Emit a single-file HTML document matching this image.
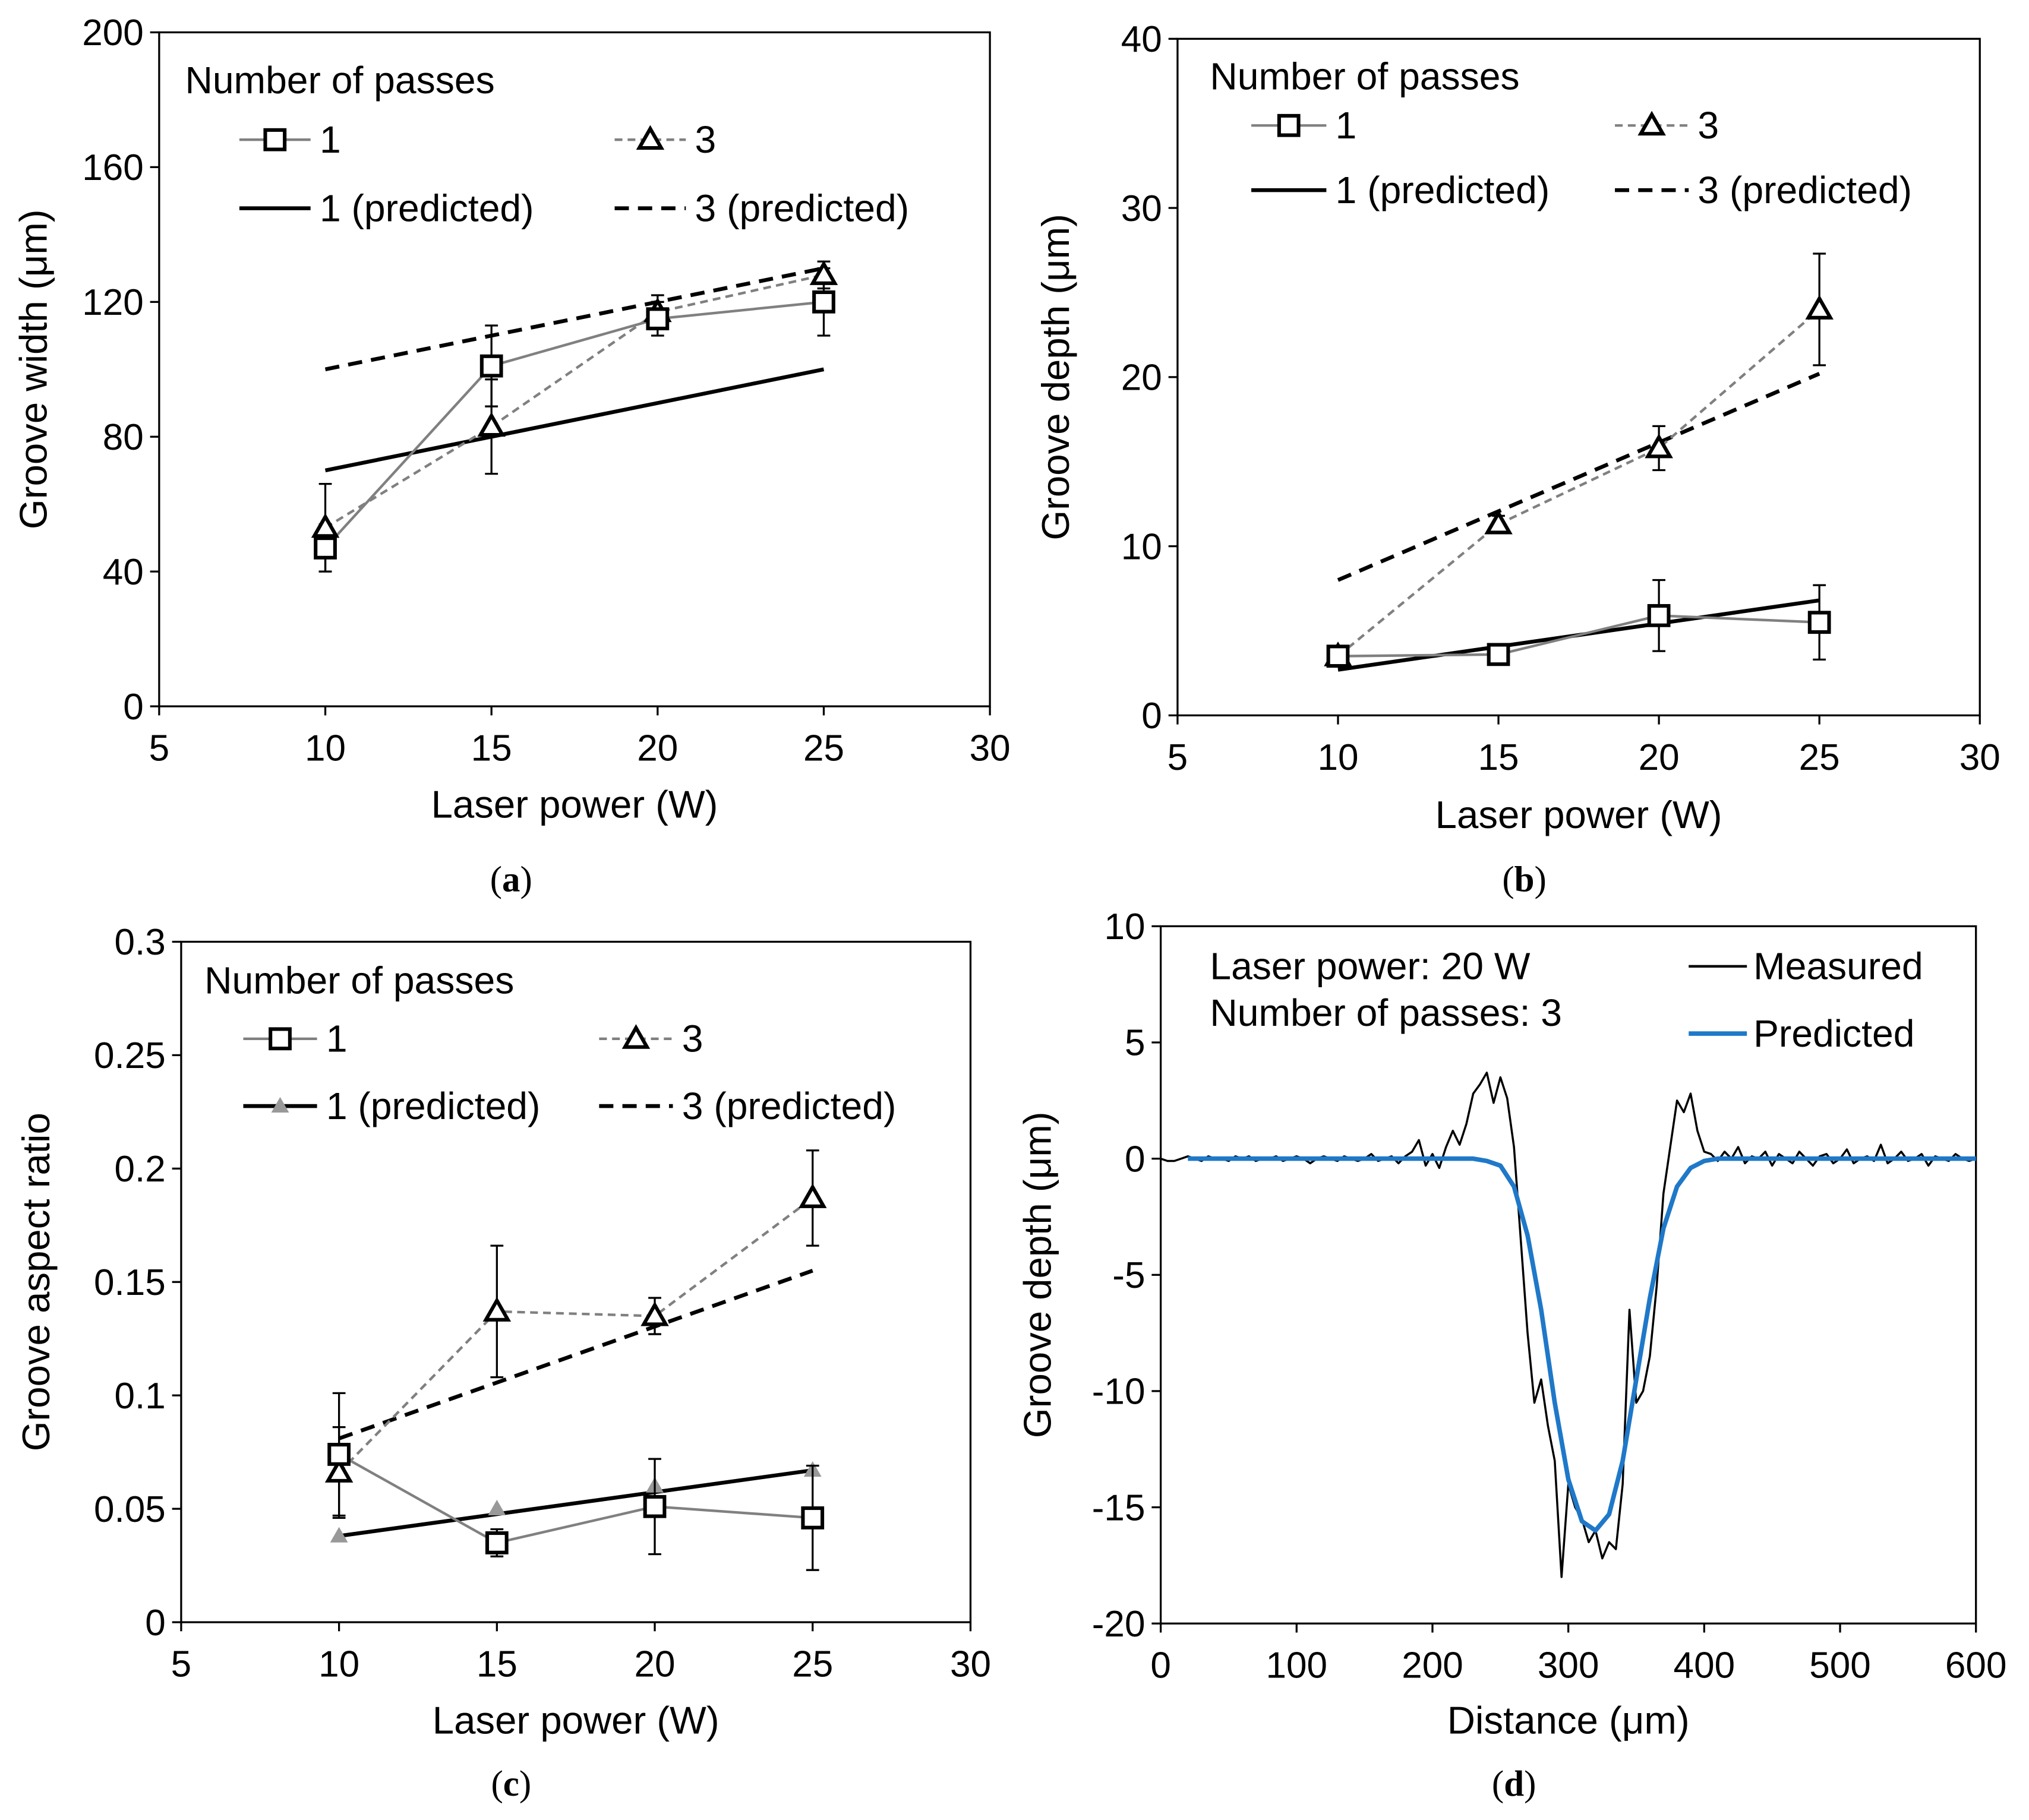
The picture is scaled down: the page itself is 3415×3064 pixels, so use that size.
<!DOCTYPE html>
<html><head><meta charset="utf-8"><style>
html,body{margin:0;padding:0;background:#fff}
svg text{font-family:"Liberation Sans",sans-serif;fill:#000}
</style></head><body>
<svg id="s" width="3415" height="3059" viewBox="0 0 1568 1404.6" preserveAspectRatio="none" xmlns="http://www.w3.org/2000/svg"></svg>
<script>
// ---- data ----
const power=[10,15,20,25];
const widthP1=[47,101,115,120], widthP1Err=[7,12,5,10];
const widthP3=[53,83,117,128], widthP3Err=[13,14,5,4];
const widthPred1=[70,100], widthPred3=[100,130], predX=[10,25];
const depthP1=[3.5,3.6,5.9,5.5], depthP1Err=[0.3,0.3,2.1,2.2];
const depthP3=[3.5,11.3,15.8,24], depthP3Err=[0.3,0.5,1.3,3.3];
const depthPred1=[2.7,6.8], depthPred3=[8,20.2];
const arP1=[0.074,0.035,0.051,0.046], arP1Err=[0.027,0.006,0.021,0.023];
const arP3=[0.066,0.137,0.135,0.187], arP3Err=[0.02,0.029,0.008,0.021];
const arPred1=[0.038,0.05,0.06,0.067], arPred3=[0.081,0.155];
const measStart=0, measStep=5;
const measured=[0,-0.1,-0.1,0,0.1,0,-0.1,0.1,0,0,-0.1,0.1,0,0.1,-0.1,0,0,0.1,-0.1,0,0.1,0,-0.2,0,0.1,0,-0.1,0.1,0,-0.1,0,0.2,-0.1,0,0.1,-0.2,0.1,0.3,
0.8,-0.3,0.2,-0.4,0.5,1.2,0.6,1.5,2.8,3.2,3.7,2.4,3.5,2.6,0.5,-3.5,-7.5,-10.5,-9.5,-11.5,-13,-18,-14,-15,-15.5,-16.5,-16,-17.2,-16.5,-16.8,-14,-6.5,-10.5,-10,-8.5,-5.5,-1.5,0.5,2.5,2.0,2.8,1.2,0.3,
0.2,-0.1,0.3,0,0.5,-0.2,0.1,0,0.3,-0.3,0.2,0,-0.2,0.3,0,-0.3,0.1,0.2,-0.2,0,0.4,-0.2,0,0.1,-0.1,0.6,-0.2,0,0.3,-0.1,0,0.2,-0.3,0.1,0,-0.1,0.2,0,-0.1,0];
const predDist=[20,100,200,230,240,250,260,270,280,290,300,310,320,330,340,350,360,370,380,390,400,410,500,600];
const predDepth=[0,0,0,0,-0.1,-0.3,-1.2,-3.3,-6.5,-10.5,-13.8,-15.6,-16,-15.3,-13,-9.5,-6,-3,-1.2,-0.4,-0.1,0,0,0];
const xTicksP=[5,10,15,20,25,30];
const yTicksA=[0,40,80,120,160,200], yTicksB=[0,10,20,30,40];
const yTicksC=[0,0.05,0.1,0.15,0.2,0.25,0.3], yTicksCLab=["0","0.05","0.1","0.15","0.2","0.25","0.3"];
const xTicksD=[0,100,200,300,400,500,600], yTicksD=[-20,-15,-10,-5,0,5,10];

const S=document.getElementById('s');
const NS='http://www.w3.org/2000/svg';
function el(tag,at,parent,txt){const e=document.createElementNS(NS,tag);for(const k in at)e.setAttribute(k,at[k]);if(txt!==undefined)e.textContent=txt;(parent||S).appendChild(e);return e;}

function axes(p){
  const g=el('g',{});
  
  
  p.sx=v=>p.x0+(v-p.xmin)/(p.xmax-p.xmin)*(p.x1-p.x0);
  p.sy=v=>p.y0+(v-p.ymin)/(p.ymax-p.ymin)*(p.y1-p.y0);
  const f=el('rect',{x:p.x0,y:p.y1,width:p.x1-p.x0,height:p.y0-p.y1,fill:'none',stroke:'#000','stroke-width':1.5},g);
  
  p.xt.forEach((v,i)=>{const x=p.sx(v);
    el('line',{x1:x,x2:x,y1:p.y0,y2:p.y0+7,stroke:'#000','stroke-width':1.5},g);
    const t=el('text',{x:x,y:p.y0+42,'font-size':28.5,'text-anchor':'middle'},g,p.xl?p.xl[i]:String(v));
    });
  p.yt.forEach((v,i)=>{const y=p.sy(v);
    el('line',{x1:p.x0-7,x2:p.x0,y1:y,y2:y,stroke:'#000','stroke-width':1.5},g);
    const t=el('text',{x:p.x0-12,y:y+10,'font-size':28.5,'text-anchor':'end'},g,p.yl?p.yl[i]:String(v));
    });
  const xt=el('text',{x:(p.x0+p.x1)/2,y:p.xty,'font-size':30,'text-anchor':'middle'},g,p.xtitle);
  
  const yc=(p.y0+p.y1)/2;
  const yt=el('text',{x:p.ytx,y:yc,'font-size':30,'text-anchor':'middle',transform:`rotate(-90 ${p.ytx} ${yc})`},g,p.ytitle);
  
  p.g=g;return p;
}
function poly(p,xs,ys,st,name){const pts=xs.map((x,i)=>p.sx(x)+','+p.sy(ys[i])).join(' ');
  const e=el('polyline',Object.assign({points:pts,fill:'none'},st),p.g);
  return e;}
function errs(p,xs,ys,es,name){xs.forEach((x,i)=>{const X=p.sx(x),a=p.sy(ys[i]-es[i]),b=p.sy(ys[i]+es[i]);
  const e=el('path',{d:`M${X} ${a}V${b}M${X-5} ${a}H${X+5}M${X-5} ${b}H${X+5}`,stroke:'#000','stroke-width':1.5,fill:'none'},p.g);
  });}
function sq(g,X,Y,name){const e=el('rect',{x:X-7.5,y:Y-7.5,width:15,height:15,fill:'#fff',stroke:'#000','stroke-width':2.8},g);
  }
function tri(g,X,Y,name,small){const r=small?6:8.5;
  const e=el('polygon',{points:`${X},${Y-r} ${X+r},${Y+r*0.75} ${X-r},${Y+r*0.75}`,fill:small?'#999':'#fff',stroke:small?'#999':'#000','stroke-width':small?1:2.8},g);
  }
function markers(p,xs,ys,kind,name){xs.forEach((x,i)=>{kind==='sq'?sq(p.g,p.sx(x),p.sy(ys[i]),name):tri(p.g,p.sx(x),p.sy(ys[i]),name,kind==='small');});}
const G1={stroke:'#808080','stroke-width':2};
const G3={stroke:'#808080','stroke-width':2,'stroke-dasharray':'6,4'};
const P1={stroke:'#000','stroke-width':3};
const P3={stroke:'#000','stroke-width':3,'stroke-dasharray':'11,7'};
function legend(g,tx,ty,r1,r2,c1,c2,l1,l2,tw,predMarker){
  const lg=el('g',{},g);
  const t=el('text',{x:tx,y:ty,'font-size':29.5},lg,'Number of passes');
  const items=[[c1,r1,G1,'1','sq'],[c2,r1,G3,'3','tri'],[c1,r2,P1,'1 (predicted)',predMarker],[c2,r2,P3,'3 (predicted)',null]];
  items.forEach(([x,y,st,lab,m])=>{const e=el('line',Object.assign({x1:x,x2:x+(x===c1?l1:l2),y1:y,y2:y},st),lg);
    
    const mx=x+(x===c1?l1:l2)/2;
    if(m==='sq')sq(lg,mx,y,'legend-marker');else if(m==='tri')tri(lg,mx,y,'legend-marker');else if(m==='small')tri(lg,mx,y,'legend-marker',true);
    const tt=el('text',{x:x+(x===c1?l1:l2)+7,y:y+10,'font-size':29.5},lg,lab);});
}
function caption(x,y,l){const t=el('text',{x:x,y:y,'font-size':28,'text-anchor':'middle',style:'font-family:"Liberation Serif",serif'});
  t.innerHTML='(<tspan font-weight="bold">'+l+'</tspan>)';}

// (a)
const A=axes({name:'chart-a',x0:123,x1:765,y0:546,y1:25,xmin:5,xmax:30,ymin:0,ymax:200,xt:xTicksP,yt:yTicksA,xtitle:'Laser power (W)',xty:632,ytitle:'Groove width (μm)',ytx:36});
poly(A,predX,widthPred1,P1,'line-1-predicted');poly(A,predX,widthPred3,P3,'line-3-predicted');
poly(A,power,widthP1,G1,'line-1-measured');poly(A,power,widthP3,G3,'line-3-measured');
errs(A,power,widthP1,widthP1Err,'error-bar-1');errs(A,power,widthP3,widthP3Err,'error-bar-3');
markers(A,power,widthP3,'tri','marker-3');markers(A,power,widthP1,'sq','marker-1');
legend(A.g,143,72,108,161,185,475,55,55);
caption(395,689,'a');
// (b)
const B=axes({name:'chart-b',x0:910,x1:1530,y0:553,y1:30,xmin:5,xmax:30,ymin:0,ymax:40,xt:xTicksP,yt:yTicksB,xtitle:'Laser power (W)',xty:640,ytitle:'Groove depth (μm)',ytx:826});
poly(B,predX,depthPred1,P1,'line-1-predicted');poly(B,predX,depthPred3,P3,'line-3-predicted');
poly(B,power,depthP1,G1,'line-1-measured');poly(B,power,depthP3,G3,'line-3-measured');
errs(B,power,depthP1,depthP1Err,'error-bar-1');errs(B,power,depthP3,depthP3Err,'error-bar-3');
markers(B,power,depthP3,'tri','marker-3');markers(B,power,depthP1,'sq','marker-1');
legend(B.g,935,69,97,147,967,1248,58,57);
caption(1178,689,'b');
// (c)
const C=axes({name:'chart-c',x0:140,x1:750,y0:1254,y1:728,xmin:5,xmax:30,ymin:0,ymax:0.3,xt:xTicksP,yt:yTicksC,yl:yTicksCLab,xtitle:'Laser power (W)',xty:1340,ytitle:'Groove aspect ratio',ytx:38});
poly(C,[10,25],[arPred1[0],arPred1[3]],P1,'line-1-predicted');poly(C,predX,arPred3,P3,'line-3-predicted');
markers(C,power,arPred1,'small','marker-1-predicted');
poly(C,power,arP1,G1,'line-1-measured');poly(C,power,arP3,G3,'line-3-measured');
errs(C,power,arP1,arP1Err,'error-bar-1');errs(C,power,arP3,arP3Err,'error-bar-3');
markers(C,power,arP3,'tri','marker-3');markers(C,power,arP1,'sq','marker-1');
legend(C.g,158,768,803,855,188,463,57,57,0,'small');
caption(395,1388,'c');
// (d)
const D=axes({name:'chart-d',x0:897,x1:1527,y0:1255,y1:716,xmin:0,xmax:600,ymin:-20,ymax:10,xt:xTicksD,yt:yTicksD,xtitle:'Distance (μm)',xty:1340,ytitle:'Groove depth (μm)',ytx:812});
poly(D,measured.map((v,i)=>measStart+i*measStep),measured,{stroke:'#000','stroke-width':1.6,'stroke-linejoin':'round'},'measured-profile');
poly(D,predDist,predDepth,{stroke:'#1f78c8','stroke-width':3.5,'stroke-linejoin':'round'},'predicted-profile');
[['Laser power: 20 W',757],['Number of passes: 3',793]].forEach(([t,y])=>{const e=el('text',{x:935,y:y,'font-size':29.5},D.g,t);});
[['Measured',747,'#000',2],['Predicted',799,'#1f78c8',3.5]].forEach(([t,y,c,w])=>{const l=el('line',{x1:1305,x2:1350,y1:y,y2:y,stroke:c,'stroke-width':w},D.g);
 const e=el('text',{x:1355,y:y+10,'font-size':29.5},D.g,t);});
caption(1170,1388,'d');
</script>
</body></html>
